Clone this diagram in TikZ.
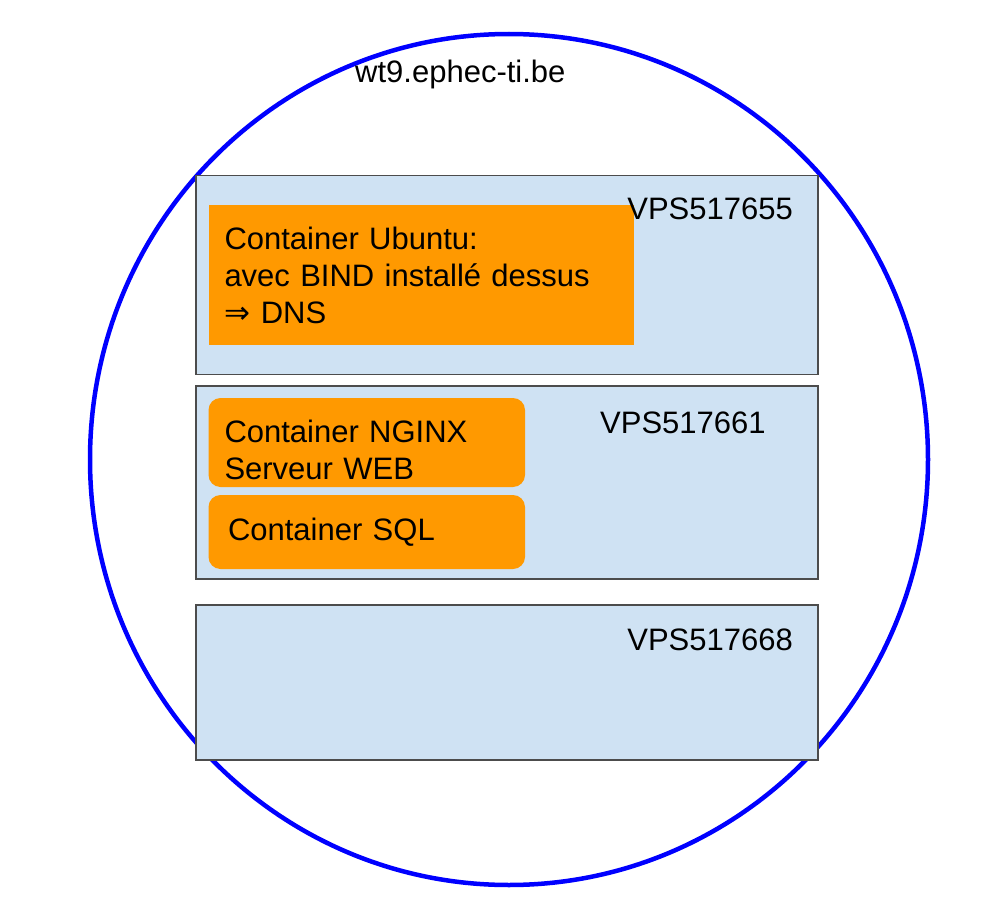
\documentclass[tikz,border=0pt]{standalone}
\usepackage{fontspec}
\setmainfont{Liberation Sans}
\newfontfamily\arrowfont{DejaVu Sans}
\usetikzlibrary{shapes.geometric}
\definecolor{vpsblue}{HTML}{CFE2F3}
\definecolor{ctrorange}{HTML}{FF9900}

\begin{document}
\begin{tikzpicture}[x=1pt,y=-1pt,
    font={\fontsize{31}{37}\selectfont},
    vps/.style={draw=black!70,line width=1.5pt,fill=vpsblue,minimum width=622pt,inner sep=0pt},
    ctr/.style={fill=ctrorange,inner xsep=16pt,inner ysep=0pt,align=left},
    lbl/.style={inner sep=0pt}]
\useasboundingbox (0,0) rectangle (994,907);
\node [ellipse,draw=blue,line width=4.5pt,inner sep=0pt,minimum width=838pt,minimum height=851pt] (ring) at (509,459.5) {};
\node [lbl,anchor=base west] (domain) at (355,83) {wt9.ephec-ti.be};
\node [vps,minimum height=199pt] (vpsa) at (507,275) {};
\node [vps,minimum height=193pt] (vpsb) at (507,482.5) {};
\node [vps,minimum height=155pt] (vpsc) at (507,682.5) {};
\node [ctr,minimum height=140pt,text width=393.5pt] (ubuntu) at (421.25,275)
    {Container Ubuntu:\\avec BIND installé dessus\\{\arrowfont ⇒} DNS};
\node [ctr,rounded corners=12pt,minimum height=89pt,text width=284.5pt,text height=37pt] (nginx) at (366.75,442.5)
    {Container NGINX\\Serveur WEB};
\node [ctr,rounded corners=12pt,minimum height=74pt,inner xsep=19.5pt,text width=277.5pt] (sql) at (366.75,532)
    {Container SQL};
\node [lbl,anchor=base east] (vpsalbl) at (793,219) {VPS517655};
\node [lbl,anchor=base west] (vpsblbl) at (600,433) {VPS517661};
\node [lbl,anchor=base east] (vpsclbl) at (793,650) {VPS517668};
\end{tikzpicture}
\end{document}
